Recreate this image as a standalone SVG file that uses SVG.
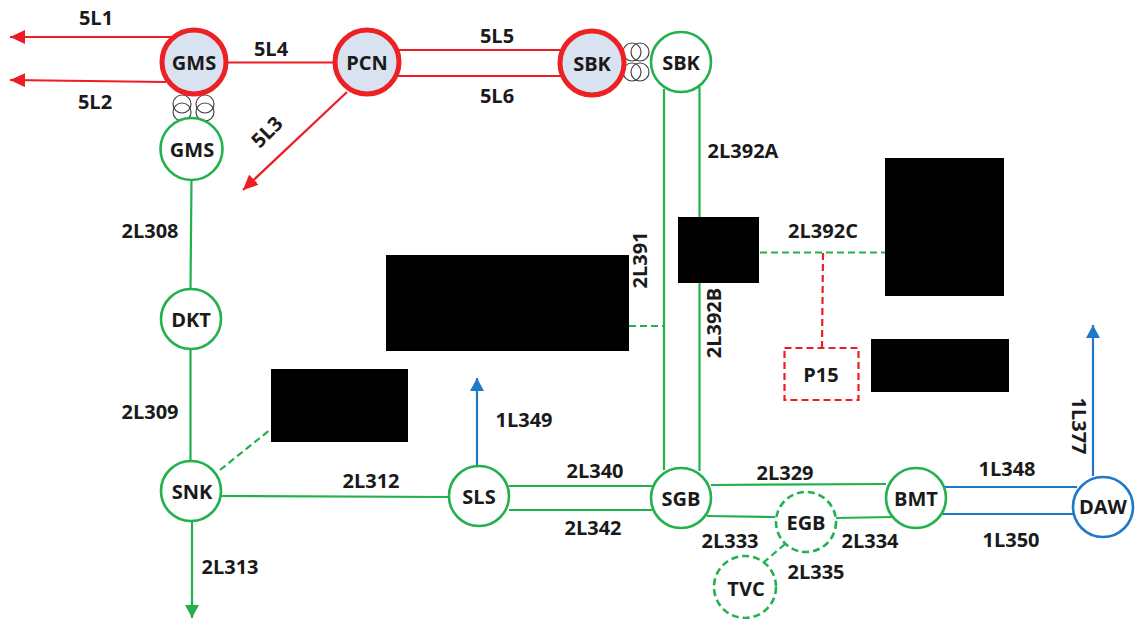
<svg xmlns="http://www.w3.org/2000/svg" width="1137" height="619" viewBox="0 0 1137 619">
<style>
text{font-family:"Open Sans","Noto Sans","Liberation Sans",sans-serif;font-weight:700;font-size:20px;fill:#1a1a1a;text-anchor:middle}
.l{fill:none;stroke-width:2.2}
.r{stroke:#ed1c24}.g{stroke:#22b14c}.b{stroke:#1f78c8}
.d{stroke-dasharray:7 4}
.n{fill:#fff;stroke-width:2.6}
.hv{fill:#d9e2f1;stroke:#ed2024;stroke-width:5}
.t{fill:none;stroke:#444;stroke-width:1.2}
.k{fill:#000}
</style>
<defs>
<marker id="ar" markerUnits="userSpaceOnUse" markerWidth="16" markerHeight="14" refX="15" refY="7" orient="auto"><path d="M0 0L15 7L0 14Z" fill="#ed1c24"/></marker>
<marker id="ag" markerUnits="userSpaceOnUse" markerWidth="14" markerHeight="14" refX="13" refY="7" orient="auto"><path d="M0 0L13 7L0 14Z" fill="#22b14c"/></marker>
<marker id="ab" markerUnits="userSpaceOnUse" markerWidth="14" markerHeight="14" refX="13" refY="7" orient="auto"><path d="M0 0L13 7L0 14Z" fill="#1f78c8"/></marker>
</defs>
<rect width="1137" height="619" fill="#fff"/>
<g id="connectors">
<path class="l r" marker-end="url(#ar)" d="M172 37H10"/>
<path class="l r" marker-end="url(#ar)" d="M166 82L10 80"/>
<path class="l r" d="M228 62.500H333"/>
<path class="l r" marker-end="url(#ar)" d="M347 92L243 190"/>
<path class="l r" d="M398 50H562"/>
<path class="l r" d="M398 76H562"/>
<path class="l g" d="M191.500 180L190.500 289"/>
<path class="l g" d="M190.500 349V461"/>
<path class="l g" marker-end="url(#ag)" d="M192 521V618"/>
<path class="l g d" d="M220 470L271 429"/>
<path class="l g" d="M221 496L449 497"/>
<path class="l b" marker-end="url(#ab)" d="M477 466V378"/>
<path class="l g" d="M509 486H652"/>
<path class="l g" d="M509 510H652"/>
<path class="l g" d="M664 89V470"/>
<path class="l g" d="M699.500 87V217M699.500 283V471"/>
<path class="l g d" d="M629 326H664"/>
<path class="l g d" d="M760 252.500H885"/>
<path class="l r d" d="M823 253L822 347"/>
<path class="l g" d="M711 485L886 484"/>
<path class="l g" d="M707 516L775 517"/>
<path class="l g" d="M836 518L892 517"/>
<path class="l g d" d="M785 544L763 563"/>
<path class="l b" d="M945 487H1077"/>
<path class="l b" d="M942 514H1074"/>
<path class="l b" marker-end="url(#ab)" d="M1093 476V325"/>
</g>
<g id="tx-gms"><circle class="t" cx="182" cy="104" r="9"/><circle class="t" cx="182" cy="112" r="9"/><circle class="t" cx="205" cy="104" r="9"/><circle class="t" cx="205" cy="112" r="9"/></g>
<g id="tx-sbk"><circle class="t" cx="632" cy="52" r="9"/><circle class="t" cx="640" cy="52" r="9"/><circle class="t" cx="632" cy="72" r="9"/><circle class="t" cx="640" cy="72" r="9"/></g>
<g id="n-gms5"><circle class="hv" cx="194" cy="62" r="32"/><text x="194" y="70">GMS</text></g>
<g id="n-pcn"><circle class="hv" cx="367" cy="62" r="32"/><text x="367" y="70">PCN</text></g>
<g id="n-sbk5"><circle class="hv" cx="592" cy="63" r="32"/><text x="592" y="71">SBK</text></g>
<g id="n-sbk2"><circle class="n g" cx="681" cy="62" r="30"/><text x="681" y="70">SBK</text></g>
<g id="n-gms2"><circle class="n g" cx="191.500" cy="149" r="31"/><text x="192" y="157">GMS</text></g>
<g id="n-dkt"><circle class="n g" cx="191" cy="319" r="30"/><text x="191" y="327">DKT</text></g>
<g id="n-snk"><circle class="n g" cx="191" cy="491" r="30"/><text x="192" y="499">SNK</text></g>
<g id="n-sls"><circle class="n g" cx="479" cy="496" r="30"/><text x="479" y="504">SLS</text></g>
<g id="n-sgb"><circle class="n g" cx="681" cy="498" r="30"/><text x="681" y="506">SGB</text></g>
<g id="n-bmt"><circle class="n g" cx="916" cy="498" r="30"/><text x="916" y="506">BMT</text></g>
<g id="n-daw"><circle class="n b" cx="1103" cy="507" r="30"/><text x="1103" y="514">DAW</text></g>
<g id="n-egb"><circle class="n g d" cx="806" cy="522" r="30"/><text x="806" y="530">EGB</text></g>
<g id="n-tvc"><circle class="n g d" cx="745" cy="587" r="31"/><text x="746" y="596">TVC</text></g>
<g id="n-p15"><rect x="784.500" y="348" width="74" height="52" fill="#fff" stroke="#ed1c24" stroke-width="2.2" stroke-dasharray="7 4"/><text x="821" y="382">P15</text></g>
<g id="redactions">
<rect class="k" x="386" y="255" width="243" height="96"/>
<rect class="k" x="271" y="369" width="137" height="73"/>
<rect class="k" x="678" y="217" width="81" height="66"/>
<rect class="k" x="885" y="158" width="119" height="138"/>
<rect class="k" x="871" y="339" width="138" height="53"/>
</g>
<g id="labels">
<text x="96" y="25">5L1</text>
<text x="95" y="109">5L2</text>
<text x="271" y="56">5L4</text>
<text transform="translate(267 132) rotate(-45)" x="0" y="7">5L3</text>
<text x="497" y="43">5L5</text>
<text x="497" y="103">5L6</text>
<text x="743" y="158">2L392A</text>
<text x="823" y="238">2L392C</text>
<text x="150" y="238">2L308</text>
<text x="150" y="419">2L309</text>
<text transform="translate(640 260) rotate(-90)" x="0" y="7">2L391</text>
<text transform="translate(714 323) rotate(-90)" x="0" y="7">2L392B</text>
<text x="524" y="427">1L349</text>
<text x="371" y="488">2L312</text>
<text x="595" y="478">2L340</text>
<text x="593" y="535">2L342</text>
<text x="785" y="480">2L329</text>
<text x="1007" y="476">1L348</text>
<text x="1011" y="547">1L350</text>
<text x="730" y="548">2L333</text>
<text x="870" y="548">2L334</text>
<text x="816" y="579">2L335</text>
<text x="230" y="574">2L313</text>
<text transform="translate(1079 426) rotate(90)" x="0" y="7">1L377</text>
</g>
</svg>
